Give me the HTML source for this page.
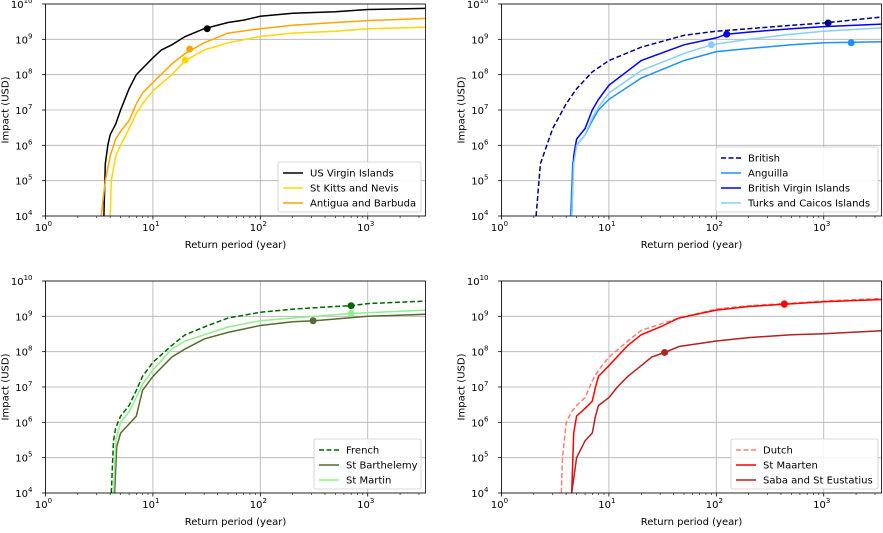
<!DOCTYPE html>
<html><head><meta charset="utf-8"><style>
body{margin:0;background:#fff;font-family:"Liberation Sans","DejaVu Sans",sans-serif}
svg text{font-family:"DejaVu Sans","Liberation Sans",sans-serif;fill:#000}
</style></head><body>
<svg id="c" width="883" height="528"></svg>
<script>
// ---- data ----
const tlNames=["US Virgin Islands","St Kitts and Nevis","Antigua and Barbuda"];
const tlX=[[3.5,3.6,3.8,4,4.5,5,6,7,8,10,12,15,20,30,50,70,100,200,500,1000,3450],[4.0,4.1,4.5,5,6,7,8,10,15,20,30,50,100,200,500,1000,3450],[3.3,3.6,4,4.5,5,6,7,8,10,15,20,30,50,100,200,500,1000,3450]];
const tlY=[[1e4,3e5,1e6,2e6,4e6,1e7,4e7,1e8,1.5e8,3e8,5e8,7e8,1.2e9,2e9,3e9,3.5e9,4.5e9,5.5e9,6e9,7e9,7.5e9],[1e4,1e5,5e5,1e6,3e6,8e6,1.5e7,3.5e7,1e8,2.5e8,5e8,8e8,1.2e9,1.5e9,1.7e9,2e9,2.2e9],[1e4,1e5,5e5,1.5e6,2.5e6,5e6,1.5e7,3e7,6e7,2e8,4e8,8e8,1.5e9,2e9,2.5e9,3e9,3.4e9,3.9e9]];
const tlDots=[[32,2e9],[20,2.6e8],[22,5.3e8]];
const trNames=["British","Anguilla","British Virgin Islands","Turks and Caicos Islands"];
const trX=[[2.1,2.3,3,4,5,7,10,20,50,100,200,500,1000,3450],[4.4,4.6,5,6,7,8,10,20,50,100,200,500,1000,3450],[4.5,4.7,5,6,7,8,10,20,50,100,125,200,500,1000,3450],[4.5,4.7,5,6,7,8,10,20,50,90,200,500,1000,3450]];
const trY=[[1e4,3e5,3e6,1.5e7,4e7,1.2e8,2.5e8,6e8,1.3e9,1.7e9,2e9,2.5e9,2.9e9,4.3e9],[1e4,3e5,1e6,2e6,5e6,1e7,2e7,8e7,2.5e8,4.5e8,5.5e8,7e8,8e8,8.5e8],[1e4,5e5,1.5e6,3e6,1e7,2e7,5e7,2.5e8,7e8,1.1e9,1.4e9,1.6e9,2e9,2.3e9,2.7e9],[1e4,3e5,1e6,2e6,6e6,1.2e7,3e7,1.3e8,4e8,7e8,1e9,1.4e9,1.7e9,2.1e9]];
const trDots=[[1100,2.9e9],[1800,8e8],[125,1.4e9],[90,7e8]];
const blNames=["French","St Barthelemy","St Martin"];
const blX=[[4.1,4.3,4.5,5,6,7,8,10,15,20,30,50,100,200,500,700,1000,3450],[4.4,4.6,5,6,7,8,10,15,20,30,50,100,200,320,1000,3450],[4.3,4.5,5,6,7,8,10,15,20,50,100,200,700,3450]];
const blY=[[1e4,3e5,7e5,1.5e6,3e6,8e6,2e7,5e7,1.5e8,3e8,5e8,9e8,1.3e9,1.6e9,1.9e9,2e9,2.3e9,2.7e9],[1e4,2e5,5e5,9e5,1.5e6,8e6,2e7,7e7,1.2e8,2.3e8,3.5e8,5.5e8,7e8,7.5e8,1e9,1.15e9],[1e4,3e5,1e6,2e6,5e6,1.2e7,3e7,1.2e8,2e8,5e8,7.5e8,9e8,1.2e9,1.5e9]];
const blDots=[[700,2e9],[310,7.5e8],[700,1.2e9]];
const brNames=["Dutch","St Maarten","Saba and St Eustatius"];
const brX=[[3.6,3.7,4,4.5,5,6,7,8,10,15,20,30,45,100,200,430,1000,3450],[4.5,4.7,5,6,7,7.5,8,10,15,20,30,45,100,200,430,1000,3450],[4.5,5,6,7,7.5,8,10,12,15,20,25,33,45,100,200,500,1000,3450]];
const brY=[[1e4,1e5,1e6,2e6,3e6,5e6,1.5e7,3e7,7e7,2e8,4e8,6e8,9e8,1.6e9,2e9,2.3e9,2.7e9,3.2e9],[1e4,5e5,1.5e6,2.5e6,4e6,1e7,2e7,4e7,1.5e8,3e8,5e8,9e8,1.5e9,1.9e9,2.2e9,2.6e9,3e9],[1e4,1e5,3e5,5e5,1.5e6,3e6,5e6,1e7,2e7,4e7,7e7,9.5e7,1.4e8,2e8,2.5e8,3e8,3.2e8,3.9e8]];
const brDots=[[430,2.3e9],[430,2.2e9],[33,9.5e7]];
const xTicks=[0,1,2,3];
const yTicks=[4,5,6,7,8,9,10];

const NS="http://www.w3.org/2000/svg";
const svg=document.getElementById('c');
function mk(t,a,p){const e=document.createElementNS(NS,t);for(const k in a)e.setAttribute(k,a[k]);(p||svg).appendChild(e);return e;}

function panel(key,L,T,names,X,Y,dots,styles,leg){
  const W=380,H=212,XMAX=Math.log10(3450);
  const sx=v=>L+Math.log10(v)/XMAX*W;
  const sy=v=>T+H-(Math.log10(v)-4)/6*H;
  const g=mk('g',{});
  
  
  xTicks.forEach(d=>{const x=sx(Math.pow(10,d));
    mk('line',{x1:x,x2:x,y1:T,y2:T+H,stroke:'#b0b0b0','stroke-width':0.8},g);
    mk('line',{x1:x,x2:x,y1:T+H,y2:T+H+3.5,stroke:'#000','stroke-width':0.8},g);
    const t=mk('text',{x:x-2,y:T+H+15,'font-size':10,'text-anchor':'middle'},g);
    
    t.innerHTML='10<tspan dy="-5" font-size="7">'+d+'</tspan>';
    for(let m=2;m<10;m++){const v=m*Math.pow(10,d);if(v>3450)break;const xm=sx(v);
      mk('line',{x1:xm,x2:xm,y1:T+H,y2:T+H+2,stroke:'#000','stroke-width':0.6},g);}
  });
  yTicks.forEach(d=>{const y=sy(Math.pow(10,d));
    mk('line',{x1:L,x2:L+W,y1:y,y2:y,stroke:'#b0b0b0','stroke-width':0.8},g);
    mk('line',{x1:L-3.5,x2:L,y1:y,y2:y,stroke:'#000','stroke-width':0.8},g);
    const t=mk('text',{x:L-13,y:y+4,'font-size':10,'text-anchor':'end'},g);
    
    t.innerHTML='10<tspan dy="-5" font-size="7">'+d+'</tspan>';
  });
  const cp=mk('clipPath',{id:'cp'+key},g);mk('rect',{x:L,y:T,width:W,height:H},cp);
  names.forEach((n,i)=>{
    const pts=X[i].map((x,j)=>sx(x).toFixed(1)+','+sy(Y[i][j]).toFixed(1)).join(' ');
    const p=mk('polyline',{points:pts,fill:'none',stroke:styles[i][0],'stroke-width':1.5,'stroke-dasharray':styles[i][1]?'5,2.5':'','clip-path':'url(#cp'+key+')'},g);
    
    const c=mk('circle',{cx:sx(dots[i][0]),cy:sy(dots[i][1]),r:3.5,fill:styles[i][0]},g);
    
  });
  mk('rect',{x:L,y:T,width:W,height:H,fill:'none',stroke:'#000','stroke-width':0.8},g);
  const xl=mk('text',{x:L+W/2,y:T+H+32,'font-size':10,'text-anchor':'middle'},g);
  
  xl.textContent='Return period (year)';
  const yl=mk('text',{x:0,y:0,'font-size':10,'text-anchor':'middle',transform:'translate('+(L-37)+','+(T+H/2)+') rotate(-90)'},g);
  
  yl.textContent='Impact (USD)';
  const lh=names.length*15+5;
  const lg=mk('g',{},g);
  
  mk('rect',{x:leg[0],y:T+H-4-lh,width:leg[1],height:lh,rx:2,fill:'#fff','fill-opacity':0.85,stroke:'#ccc','stroke-width':0.8},lg);
  names.forEach((n,i)=>{const y=T+H-4-lh+11+i*15;
    mk('line',{x1:leg[0]+5,x2:leg[0]+25,y1:y,y2:y,stroke:styles[i][0],'stroke-width':1.5,'stroke-dasharray':styles[i][1]?'5,2.5':''},lg);
    const t=mk('text',{x:leg[0]+32,y:y+3.5,'font-size':10},lg);
    
    t.textContent=n;});
}
panel('tl',45.5,4,tlNames,tlX,tlY,tlDots,[['#000',0],['#FFD700',0],['#FFA500',0]],[278,143]);
panel('tr',501.5,4,trNames,trX,trY,trDots,[['#000080',1],['#1E90FF',0],['#0000FF',0],['#87CEFA',0]],[716,162]);
panel('bl',45.5,281,blNames,blX,blY,blDots,[['#006400',1],['#556B2F',0],['#90EE90',0]],[314,107]);
panel('br',501.5,281,brNames,brX,brY,brDots,[['#FA8072',1],['#FF0000',0],['#B22222',0]],[731,147]);
</script>
</body></html>
